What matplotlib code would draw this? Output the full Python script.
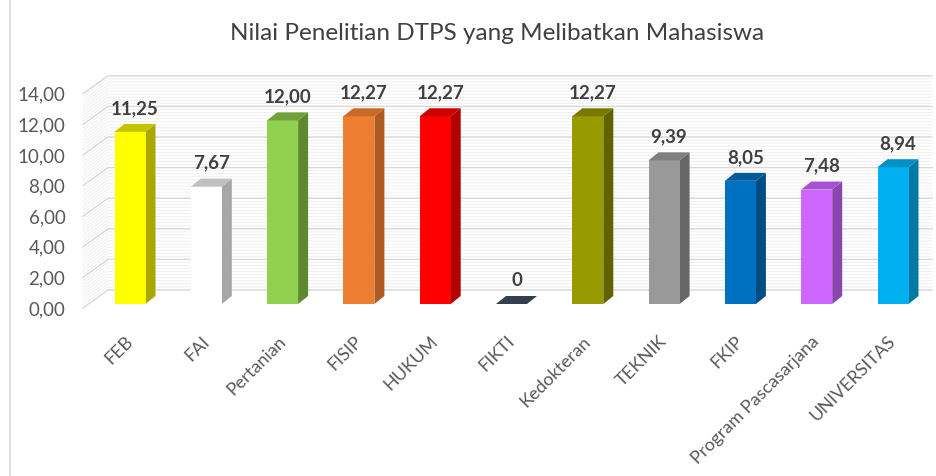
import numpy as np
import matplotlib
matplotlib.use('Agg')
import matplotlib.pyplot as plt
from matplotlib.patches import Polygon
from matplotlib.lines import Line2D

plt.rcParams['font.family'] = ['Lato', 'DejaVu Sans']

## data
categories = ['FEB', 'FAI', 'Pertanian', 'FISIP', 'HUKUM', 'FIKTI', 'Kedokteran',
              'TEKNIK', 'FKIP', 'Program Pascasarjana', 'UNIVERSITAS']
values = [11.25, 7.67, 12.00, 12.27, 12.27, 0, 12.27, 9.39, 8.05, 7.48, 8.94]
value_labels = ['11,25', '7,67', '12,00', '12,27', '12,27', '0', '12,27',
                '9,39', '8,05', '7,48', '8,94']
yticks = [0, 2, 4, 6, 8, 10, 12, 14]
ytick_labels = ['0,00', '2,00', '4,00', '6,00', '8,00', '10,00', '12,00', '14,00']
title = 'Nilai Penelitian DTPS yang Melibatkan Mahasiswa'

## colours (front, side, top)
front = ['#FFFF00', '#FFFFFF', '#92D050', '#ED7D31', '#FF0000', '#333F50',
         '#999900', '#999999', '#0070C0', '#CC66FF', '#00B0F0']
side = ['#A8A800', '#A6A6A6', '#5E8A2E', '#AE5A21', '#B00000', '#333F50',
        '#626200', '#676767', '#004C85', '#8A46AE', '#0079A6']
top = ['#C4C400', '#C0C0C0', '#6FA03A', '#C96A28', '#CC0000', '#333F50',
       '#7A7A00', '#808080', '#005A9C', '#A552D0', '#0090C4']

W, H = 936, 476
fig = plt.figure(figsize=(W / 100, H / 100), dpi=100)

px_unit = 15.3      # pixels per value unit
px_cat = 76.3       # pixels per category
x0_px = 130         # first bar centre
ax_left, ax_right = 80, 932
base_px, top_px = 304, 66

ax = fig.add_axes([ax_left / W, (H - base_px) / H, (ax_right - ax_left) / W,
                   (base_px - top_px) / H])
ax.set_xlim((ax_left - x0_px) / px_cat, (ax_right - x0_px) / px_cat)
ax.set_ylim(0, (base_px - top_px) / px_unit)
ax.axis('off')

xmin, xmax = ax.get_xlim()

# 3d wall offsets (data units)
wall_dy_front = -4 / px_unit
wall_dy_back = 14 / px_unit
diag_x0 = (83 - x0_px) / px_cat
diag_x1 = (108 - x0_px) / px_cat

# fine stripes on the wall
for v in np.arange(0, 14.01, 0.2):
    ax.plot([diag_x0, diag_x1, xmax], [v + wall_dy_front, v + wall_dy_back, v + wall_dy_back],
            color='#EEEEEE', lw=0.6, zorder=1, clip_on=False)
# main gridlines
for v, lab in zip(yticks, ytick_labels):
    ax.plot([diag_x0, diag_x1, xmax], [v + wall_dy_front, v + wall_dy_back, v + wall_dy_back],
            color='#D9D9D9', lw=1.0, zorder=2, clip_on=False)
    ax.text(diag_x0 - 0.23, v + wall_dy_front - 0.1, lab, ha='right', va='center',
            fontsize=13.5, color='#595959')

## bars
w = 31 / px_cat
ddx = 10 / px_cat
ddy = 8 / px_unit
xs = np.arange(len(categories))
ax.bar(xs, values, width=w, color=front, edgecolor='none', zorder=5)
for i, v in enumerate(values):
    xl, xr = xs[i] - w / 2, xs[i] + w / 2
    ax.add_patch(Polygon([(xr, 0), (xr + ddx, ddy), (xr + ddx, v + ddy), (xr, v)],
                         closed=True, facecolor=side[i], edgecolor='none', zorder=4))
    ax.add_patch(Polygon([(xl, v), (xl + ddx, v + ddy), (xr + ddx, v + ddy), (xr, v)],
                         closed=True, facecolor=top[i], edgecolor='none', zorder=6))
    ax.annotate(value_labels[i], (xs[i] + ddx / 2, v + ddy), xytext=(0, 5),
                textcoords='offset points', ha='center', va='bottom',
                fontsize=13.5, fontweight='bold', color='#404040', zorder=7)

## category labels
for i, c in enumerate(categories):
    ax.annotate(c, (xs[i] - 0.07, 0), xytext=(0, -21), textcoords='offset points',
                rotation=45, rotation_mode='anchor', ha='right', va='top',
                fontsize=13, color='#595959', annotation_clip=False)

fig.text(497 / W, (H - 33) / H, title, ha='center', va='center', fontsize=17.5,
         color='#404040')

# chart frame (left edge)
fig.add_artist(Line2D([10 / W, 10 / W], [0, 1], color='#D9D9D9', lw=1.2))

fig.savefig('out.png', dpi=100)
